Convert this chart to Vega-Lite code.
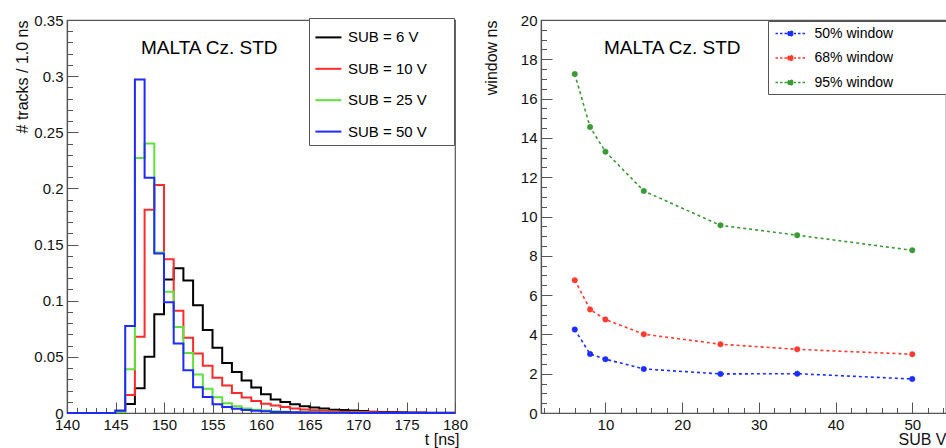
{
  "$schema": "https://vega.github.io/schema/vega-lite/v6.json",
  "background": "white",
  "padding": {"left": 13, "top": 12, "right": 0, "bottom": 0},
  "spacing": 86,
  "bounds": "flush",
  "datasets": {
    "hist": [
      {"sub": "SUB = 6 V", "t": 140, "v": 0}, {"sub": "SUB = 6 V", "t": 141, "v": 0}, {"sub": "SUB = 6 V", "t": 142, "v": 0}, {"sub": "SUB = 6 V", "t": 143, "v": 0}, {"sub": "SUB = 6 V", "t": 144, "v": 0},
      {"sub": "SUB = 6 V", "t": 145, "v": 0.002}, {"sub": "SUB = 6 V", "t": 146, "v": 0.008}, {"sub": "SUB = 6 V", "t": 147, "v": 0.022}, {"sub": "SUB = 6 V", "t": 148, "v": 0.05}, {"sub": "SUB = 6 V", "t": 149, "v": 0.088},
      {"sub": "SUB = 6 V", "t": 150, "v": 0.119}, {"sub": "SUB = 6 V", "t": 151, "v": 0.129}, {"sub": "SUB = 6 V", "t": 152, "v": 0.118}, {"sub": "SUB = 6 V", "t": 153, "v": 0.096}, {"sub": "SUB = 6 V", "t": 154, "v": 0.074},
      {"sub": "SUB = 6 V", "t": 155, "v": 0.058}, {"sub": "SUB = 6 V", "t": 156, "v": 0.0445}, {"sub": "SUB = 6 V", "t": 157, "v": 0.0365}, {"sub": "SUB = 6 V", "t": 158, "v": 0.029}, {"sub": "SUB = 6 V", "t": 159, "v": 0.0226},
      {"sub": "SUB = 6 V", "t": 160, "v": 0.0168}, {"sub": "SUB = 6 V", "t": 161, "v": 0.012}, {"sub": "SUB = 6 V", "t": 162, "v": 0.0098}, {"sub": "SUB = 6 V", "t": 163, "v": 0.0077}, {"sub": "SUB = 6 V", "t": 164, "v": 0.006},
      {"sub": "SUB = 6 V", "t": 165, "v": 0.0048}, {"sub": "SUB = 6 V", "t": 166, "v": 0.0039}, {"sub": "SUB = 6 V", "t": 167, "v": 0.003}, {"sub": "SUB = 6 V", "t": 168, "v": 0.0027}, {"sub": "SUB = 6 V", "t": 169, "v": 0.0022},
      {"sub": "SUB = 6 V", "t": 170, "v": 0.0018}, {"sub": "SUB = 6 V", "t": 171, "v": 0.0012}, {"sub": "SUB = 6 V", "t": 172, "v": 0.001}, {"sub": "SUB = 6 V", "t": 173, "v": 0.0008}, {"sub": "SUB = 6 V", "t": 174, "v": 0.0006},
      {"sub": "SUB = 6 V", "t": 175, "v": 0.0005}, {"sub": "SUB = 6 V", "t": 176, "v": 0.0004}, {"sub": "SUB = 6 V", "t": 177, "v": 0.0003}, {"sub": "SUB = 6 V", "t": 178, "v": 0.0002}, {"sub": "SUB = 6 V", "t": 179, "v": 0.0002}, {"sub": "SUB = 6 V", "t": 180, "v": 0.0002},

      {"sub": "SUB = 10 V", "t": 140, "v": 0}, {"sub": "SUB = 10 V", "t": 141, "v": 0}, {"sub": "SUB = 10 V", "t": 142, "v": 0}, {"sub": "SUB = 10 V", "t": 143, "v": 0}, {"sub": "SUB = 10 V", "t": 144, "v": 0},
      {"sub": "SUB = 10 V", "t": 145, "v": 0.001}, {"sub": "SUB = 10 V", "t": 146, "v": 0.016}, {"sub": "SUB = 10 V", "t": 147, "v": 0.068}, {"sub": "SUB = 10 V", "t": 148, "v": 0.181}, {"sub": "SUB = 10 V", "t": 149, "v": 0.203},
      {"sub": "SUB = 10 V", "t": 150, "v": 0.137}, {"sub": "SUB = 10 V", "t": 151, "v": 0.091}, {"sub": "SUB = 10 V", "t": 152, "v": 0.067}, {"sub": "SUB = 10 V", "t": 153, "v": 0.053}, {"sub": "SUB = 10 V", "t": 154, "v": 0.042},
      {"sub": "SUB = 10 V", "t": 155, "v": 0.0315}, {"sub": "SUB = 10 V", "t": 156, "v": 0.0245}, {"sub": "SUB = 10 V", "t": 157, "v": 0.0178}, {"sub": "SUB = 10 V", "t": 158, "v": 0.0137}, {"sub": "SUB = 10 V", "t": 159, "v": 0.0107},
      {"sub": "SUB = 10 V", "t": 160, "v": 0.0083}, {"sub": "SUB = 10 V", "t": 161, "v": 0.0066}, {"sub": "SUB = 10 V", "t": 162, "v": 0.0053}, {"sub": "SUB = 10 V", "t": 163, "v": 0.004}, {"sub": "SUB = 10 V", "t": 164, "v": 0.0032},
      {"sub": "SUB = 10 V", "t": 165, "v": 0.0025}, {"sub": "SUB = 10 V", "t": 166, "v": 0.002}, {"sub": "SUB = 10 V", "t": 167, "v": 0.0015}, {"sub": "SUB = 10 V", "t": 168, "v": 0.0012}, {"sub": "SUB = 10 V", "t": 169, "v": 0.001},
      {"sub": "SUB = 10 V", "t": 170, "v": 0.0008}, {"sub": "SUB = 10 V", "t": 171, "v": 0.0006}, {"sub": "SUB = 10 V", "t": 172, "v": 0.0005}, {"sub": "SUB = 10 V", "t": 173, "v": 0.0004}, {"sub": "SUB = 10 V", "t": 174, "v": 0.0003},
      {"sub": "SUB = 10 V", "t": 175, "v": 0.0002}, {"sub": "SUB = 10 V", "t": 176, "v": 0.0002}, {"sub": "SUB = 10 V", "t": 177, "v": 0.0001}, {"sub": "SUB = 10 V", "t": 178, "v": 0.0001}, {"sub": "SUB = 10 V", "t": 179, "v": 0.0001}, {"sub": "SUB = 10 V", "t": 180, "v": 0.0001},

      {"sub": "SUB = 25 V", "t": 140, "v": 0}, {"sub": "SUB = 25 V", "t": 141, "v": 0}, {"sub": "SUB = 25 V", "t": 142, "v": 0}, {"sub": "SUB = 25 V", "t": 143, "v": 0}, {"sub": "SUB = 25 V", "t": 144, "v": 0},
      {"sub": "SUB = 25 V", "t": 145, "v": 0.001}, {"sub": "SUB = 25 V", "t": 146, "v": 0.039}, {"sub": "SUB = 25 V", "t": 147, "v": 0.227}, {"sub": "SUB = 25 V", "t": 148, "v": 0.24}, {"sub": "SUB = 25 V", "t": 149, "v": 0.143},
      {"sub": "SUB = 25 V", "t": 150, "v": 0.108}, {"sub": "SUB = 25 V", "t": 151, "v": 0.0766}, {"sub": "SUB = 25 V", "t": 152, "v": 0.0535}, {"sub": "SUB = 25 V", "t": 153, "v": 0.0343}, {"sub": "SUB = 25 V", "t": 154, "v": 0.0217},
      {"sub": "SUB = 25 V", "t": 155, "v": 0.014}, {"sub": "SUB = 25 V", "t": 156, "v": 0.0087}, {"sub": "SUB = 25 V", "t": 157, "v": 0.006}, {"sub": "SUB = 25 V", "t": 158, "v": 0.004}, {"sub": "SUB = 25 V", "t": 159, "v": 0.003},
      {"sub": "SUB = 25 V", "t": 160, "v": 0.0022}, {"sub": "SUB = 25 V", "t": 161, "v": 0.0016}, {"sub": "SUB = 25 V", "t": 162, "v": 0.0012}, {"sub": "SUB = 25 V", "t": 163, "v": 0.001}, {"sub": "SUB = 25 V", "t": 164, "v": 0.0008},
      {"sub": "SUB = 25 V", "t": 165, "v": 0.0006}, {"sub": "SUB = 25 V", "t": 166, "v": 0.0005}, {"sub": "SUB = 25 V", "t": 167, "v": 0.0004}, {"sub": "SUB = 25 V", "t": 168, "v": 0.0003}, {"sub": "SUB = 25 V", "t": 169, "v": 0.0002},
      {"sub": "SUB = 25 V", "t": 170, "v": 0.0002}, {"sub": "SUB = 25 V", "t": 171, "v": 0.0001}, {"sub": "SUB = 25 V", "t": 172, "v": 0.0001}, {"sub": "SUB = 25 V", "t": 173, "v": 0.0001}, {"sub": "SUB = 25 V", "t": 174, "v": 0.0001},
      {"sub": "SUB = 25 V", "t": 175, "v": 0.0001}, {"sub": "SUB = 25 V", "t": 176, "v": 0.0001}, {"sub": "SUB = 25 V", "t": 177, "v": 0.0001}, {"sub": "SUB = 25 V", "t": 178, "v": 0.0001}, {"sub": "SUB = 25 V", "t": 179, "v": 0.0001}, {"sub": "SUB = 25 V", "t": 180, "v": 0.0001},

      {"sub": "SUB = 50 V", "t": 140, "v": 0}, {"sub": "SUB = 50 V", "t": 141, "v": 0}, {"sub": "SUB = 50 V", "t": 142, "v": 0}, {"sub": "SUB = 50 V", "t": 143, "v": 0}, {"sub": "SUB = 50 V", "t": 144, "v": 0},
      {"sub": "SUB = 50 V", "t": 145, "v": 0.002}, {"sub": "SUB = 50 V", "t": 146, "v": 0.0775}, {"sub": "SUB = 50 V", "t": 147, "v": 0.297}, {"sub": "SUB = 50 V", "t": 148, "v": 0.2096}, {"sub": "SUB = 50 V", "t": 149, "v": 0.142},
      {"sub": "SUB = 50 V", "t": 150, "v": 0.0986}, {"sub": "SUB = 50 V", "t": 151, "v": 0.0618}, {"sub": "SUB = 50 V", "t": 152, "v": 0.038}, {"sub": "SUB = 50 V", "t": 153, "v": 0.0229}, {"sub": "SUB = 50 V", "t": 154, "v": 0.0143},
      {"sub": "SUB = 50 V", "t": 155, "v": 0.0077}, {"sub": "SUB = 50 V", "t": 156, "v": 0.0053}, {"sub": "SUB = 50 V", "t": 157, "v": 0.0037}, {"sub": "SUB = 50 V", "t": 158, "v": 0.0027}, {"sub": "SUB = 50 V", "t": 159, "v": 0.002},
      {"sub": "SUB = 50 V", "t": 160, "v": 0.0015}, {"sub": "SUB = 50 V", "t": 161, "v": 0.001}, {"sub": "SUB = 50 V", "t": 162, "v": 0.0008}, {"sub": "SUB = 50 V", "t": 163, "v": 0.0006}, {"sub": "SUB = 50 V", "t": 164, "v": 0.0005},
      {"sub": "SUB = 50 V", "t": 165, "v": 0.0004}, {"sub": "SUB = 50 V", "t": 166, "v": 0.0003}, {"sub": "SUB = 50 V", "t": 167, "v": 0.0002}, {"sub": "SUB = 50 V", "t": 168, "v": 0.0002}, {"sub": "SUB = 50 V", "t": 169, "v": 0.0001},
      {"sub": "SUB = 50 V", "t": 170, "v": 0.0001}, {"sub": "SUB = 50 V", "t": 171, "v": 0.0001}, {"sub": "SUB = 50 V", "t": 172, "v": 0.0001}, {"sub": "SUB = 50 V", "t": 173, "v": 0.0001}, {"sub": "SUB = 50 V", "t": 174, "v": 0.0001},
      {"sub": "SUB = 50 V", "t": 175, "v": 0.0001}, {"sub": "SUB = 50 V", "t": 176, "v": 0.0001}, {"sub": "SUB = 50 V", "t": 177, "v": 0.0001}, {"sub": "SUB = 50 V", "t": 178, "v": 0.0001}, {"sub": "SUB = 50 V", "t": 179, "v": 0.0001}, {"sub": "SUB = 50 V", "t": 180, "v": 0.0001}
    ],
    "win": [
      {"win": "50% window", "sub": 6, "w": 4.25}, {"win": "50% window", "sub": 8, "w": 3.0}, {"win": "50% window", "sub": 10, "w": 2.74}, {"win": "50% window", "sub": 15, "w": 2.24}, {"win": "50% window", "sub": 25, "w": 1.99}, {"win": "50% window", "sub": 35, "w": 2.0}, {"win": "50% window", "sub": 50, "w": 1.73},
      {"win": "68% window", "sub": 6, "w": 6.76}, {"win": "68% window", "sub": 8, "w": 5.27}, {"win": "68% window", "sub": 10, "w": 4.76}, {"win": "68% window", "sub": 15, "w": 4.01}, {"win": "68% window", "sub": 25, "w": 3.5}, {"win": "68% window", "sub": 35, "w": 3.24}, {"win": "68% window", "sub": 50, "w": 2.99},
      {"win": "95% window", "sub": 6, "w": 17.25}, {"win": "95% window", "sub": 8, "w": 14.55}, {"win": "95% window", "sub": 10, "w": 13.3}, {"win": "95% window", "sub": 15, "w": 11.3}, {"win": "95% window", "sub": 25, "w": 9.55}, {"win": "95% window", "sub": 35, "w": 9.05}, {"win": "95% window", "sub": 50, "w": 8.28}
    ]
  },
  "hconcat": [
    {
      "width": 388,
      "height": 393,
      "title": {"text": "MALTA Cz. STD", "anchor": "start", "frame": "group", "dx": 74, "dy": 54, "baseline": "middle", "offset": 0, "fontSize": 19, "fontWeight": "normal", "font": "Liberation Sans", "color": "#000000"},
      "data": {"name": "hist"},
      "mark": {"type": "line", "interpolate": "step-after", "strokeWidth": 2},
      "encoding": {
        "x": {
          "field": "t", "type": "quantitative",
          "scale": {"domain": [140, 180], "nice": false, "zero": false},
          "axis": {
            "values": [140,141,142,143,144,145,146,147,148,149,150,151,152,153,154,155,156,157,158,159,160,161,162,163,164,165,166,167,168,169,170,171,172,173,174,175,176,177,178,179,180],
            "format": "d",
            "labelExpr": "datum.value % 5 == 0 ? datum.label : ''",
            "tickSize": {"condition": {"test": "datum.value % 5 == 0", "value": -11}, "value": -5.5},
            "labelPadding": 15,
            "title": "t [ns]", "titleX": 392, "titleY": 18, "titleAlign": "right", "titleBaseline": "top"
          }
        },
        "y": {
          "field": "v", "type": "quantitative",
          "scale": {"domain": [0, 0.35], "nice": false, "zero": true},
          "axis": {
            "values": [0,0.01,0.02,0.03,0.04,0.05,0.06,0.07,0.08,0.09,0.1,0.11,0.12,0.13,0.14,0.15,0.16,0.17,0.18,0.19,0.2,0.21,0.22,0.23,0.24,0.25,0.26,0.27,0.28,0.29,0.3,0.31,0.32,0.33,0.34,0.35],
            "labelExpr": "round(datum.value*100) % 5 == 0 ? toString(round(datum.value*100)/100) : ''",
            "tickSize": {"condition": {"test": "round(datum.value*100) % 5 == 0", "value": -11}, "value": -5.5},
            "labelPadding": 15,
            "title": "# tracks / 1.0 ns", "titleX": -37, "titleY": 0, "titleAlign": "right", "titleAngle": 270, "titleBaseline": "bottom"
          }
        },
        "color": {
          "field": "sub", "type": "nominal",
          "scale": {"domain": ["SUB = 6 V", "SUB = 10 V", "SUB = 25 V", "SUB = 50 V"], "range": ["#000000", "#ff2b2b", "#5fe03a", "#1f2bff"]},
          "legend": {
            "title": null,
            "orient": "none", "legendX": 242, "legendY": -2, "direction": "vertical",
            "symbolType": "M-1,0L1,0M8.9,0", "symbolSize": 676, "symbolStrokeWidth": 2, "symbolOffset": 0,
            "labelOffset": 5.6, "padding": 5.4, "rowPadding": 9.4, "labelFontSize": 15, "labelColor": "#000000",
            "strokeColor": "#555555", "fillColor": "#ffffff", "labelLimit": 400
          }
        }
      }
    },
    {
      "width": 405,
      "height": 393,
      "title": {"text": "MALTA Cz. STD", "anchor": "start", "frame": "group", "dx": 63, "dy": 54, "baseline": "middle", "offset": 0, "fontSize": 19, "fontWeight": "normal", "font": "Liberation Sans", "color": "#000000"},
      "data": {"name": "win"},
      "encoding": {
        "x": {
          "field": "sub", "type": "quantitative",
          "scale": {"domain": [1.6, 54.4], "nice": false, "zero": false},
          "axis": {
            "values": [2,4,6,8,10,12,14,16,18,20,22,24,26,28,30,32,34,36,38,40,42,44,46,48,50,52,54],
            "format": "d",
            "labelExpr": "datum.value % 10 == 0 ? datum.label : ''",
            "tickSize": {"condition": {"test": "datum.value % 10 == 0", "value": -11}, "value": -5.5},
            "labelPadding": 15,
            "title": "SUB V", "titleX": 405, "titleY": 18, "titleAlign": "right", "titleBaseline": "top"
          }
        },
        "y": {
          "field": "w", "type": "quantitative",
          "scale": {"domain": [0, 20], "nice": false},
          "axis": {
            "values": [0,0.5,1,1.5,2,2.5,3,3.5,4,4.5,5,5.5,6,6.5,7,7.5,8,8.5,9,9.5,10,10.5,11,11.5,12,12.5,13,13.5,14,14.5,15,15.5,16,16.5,17,17.5,18,18.5,19,19.5,20],
            "labelExpr": "datum.value % 2 == 0 ? toString(datum.value) : ''",
            "tickSize": {"condition": {"test": "datum.value % 2 == 0", "value": -11}, "value": -5.5},
            "labelPadding": 15,
            "title": "window ns", "titleX": -42, "titleY": 0, "titleAlign": "right", "titleAngle": 270, "titleBaseline": "bottom"
          }
        }
      },
      "layer": [
        {
          "mark": {"type": "line", "strokeDash": [3, 3], "strokeWidth": 1.6},
          "encoding": {
            "stroke": {"field": "win", "type": "nominal", "scale": {"domain": ["50% window", "68% window", "95% window"], "range": ["#1a2eff", "#ff3a2e", "#3a9a35"]},
              "legend": {
                "title": null,
                "orient": "none", "legendX": 227, "legendY": 1, "direction": "vertical",
                "symbolType": "M-2,0L2,0M-0.35,0A0.35,0.35 0 1,0 0.35,0A0.35,0.35 0 1,0 -0.35,0ZM20.3,0",
                "symbolSize": 225, "symbolStrokeWidth": 1.5, "symbolDash": [2.5, 2], "symbolOffset": 10,
                "labelOffset": 15.5, "padding": 4, "rowPadding": 8.5, "labelFontSize": 14, "labelColor": "#000000",
                "strokeColor": "#555555", "fillColor": "#ffffff", "labelLimit": 400
              }
            }
          }
        },
        {
          "mark": {"type": "point", "filled": true, "size": 30, "opacity": 1, "strokeWidth": 0.5},
          "encoding": {
            "fill": {"field": "win", "type": "nominal", "scale": {"domain": ["50% window", "68% window", "95% window"], "range": ["#1a2eff", "#ff3a2e", "#3a9a35"]},
              "legend": {
                "title": null,
                "orient": "none", "legendX": 227, "legendY": 1, "direction": "vertical",
                "symbolType": "M-2,0L2,0M-0.35,0A0.35,0.35 0 1,0 0.35,0A0.35,0.35 0 1,0 -0.35,0ZM20.3,0",
                "symbolSize": 225, "symbolStrokeWidth": 1.5, "symbolDash": [2.5, 2], "symbolOffset": 10,
                "labelOffset": 15.5, "padding": 4, "rowPadding": 8.5, "labelFontSize": 14, "labelColor": "#000000",
                "strokeColor": "#555555", "fillColor": "#ffffff", "labelLimit": 400
              }
            },
            "stroke": {"field": "win", "type": "nominal", "scale": {"domain": ["50% window", "68% window", "95% window"], "range": ["#1a2eff", "#ff3a2e", "#3a9a35"]},
              "legend": {
                "title": null,
                "orient": "none", "legendX": 227, "legendY": 1, "direction": "vertical",
                "symbolType": "M-2,0L2,0M-0.35,0A0.35,0.35 0 1,0 0.35,0A0.35,0.35 0 1,0 -0.35,0ZM20.3,0",
                "symbolSize": 225, "symbolStrokeWidth": 1.5, "symbolDash": [2.5, 2], "symbolOffset": 10,
                "labelOffset": 15.5, "padding": 4, "rowPadding": 8.5, "labelFontSize": 14, "labelColor": "#000000",
                "strokeColor": "#555555", "fillColor": "#ffffff", "labelLimit": 400
              }
            }
          }
        }
      ]
    }
  ],
  "resolve": {
    "scale": {"color": "independent", "stroke": "independent", "fill": "independent"},
    "legend": {"color": "independent", "stroke": "independent", "fill": "independent"}
  },
  "config": {
    "view": {"stroke": "#555555", "strokeWidth": 1.2},
    "font": "Liberation Sans",
    "axis": {
      "domainColor": "#555555", "domainWidth": 1.2, "tickColor": "#555555", "tickWidth": 1,
      "labelColor": "#111111", "labelFontSize": 15, "labelFont": "Liberation Sans",
      "titleFont": "Liberation Sans", "titleFontSize": 16, "titleFontWeight": "normal", "titleColor": "#111111",
      "grid": false, "labelOverlap": false, "labelFlush": false, "labelBound": false
    },
    "legend": {"labelFont": "Liberation Sans"}
  }
}
